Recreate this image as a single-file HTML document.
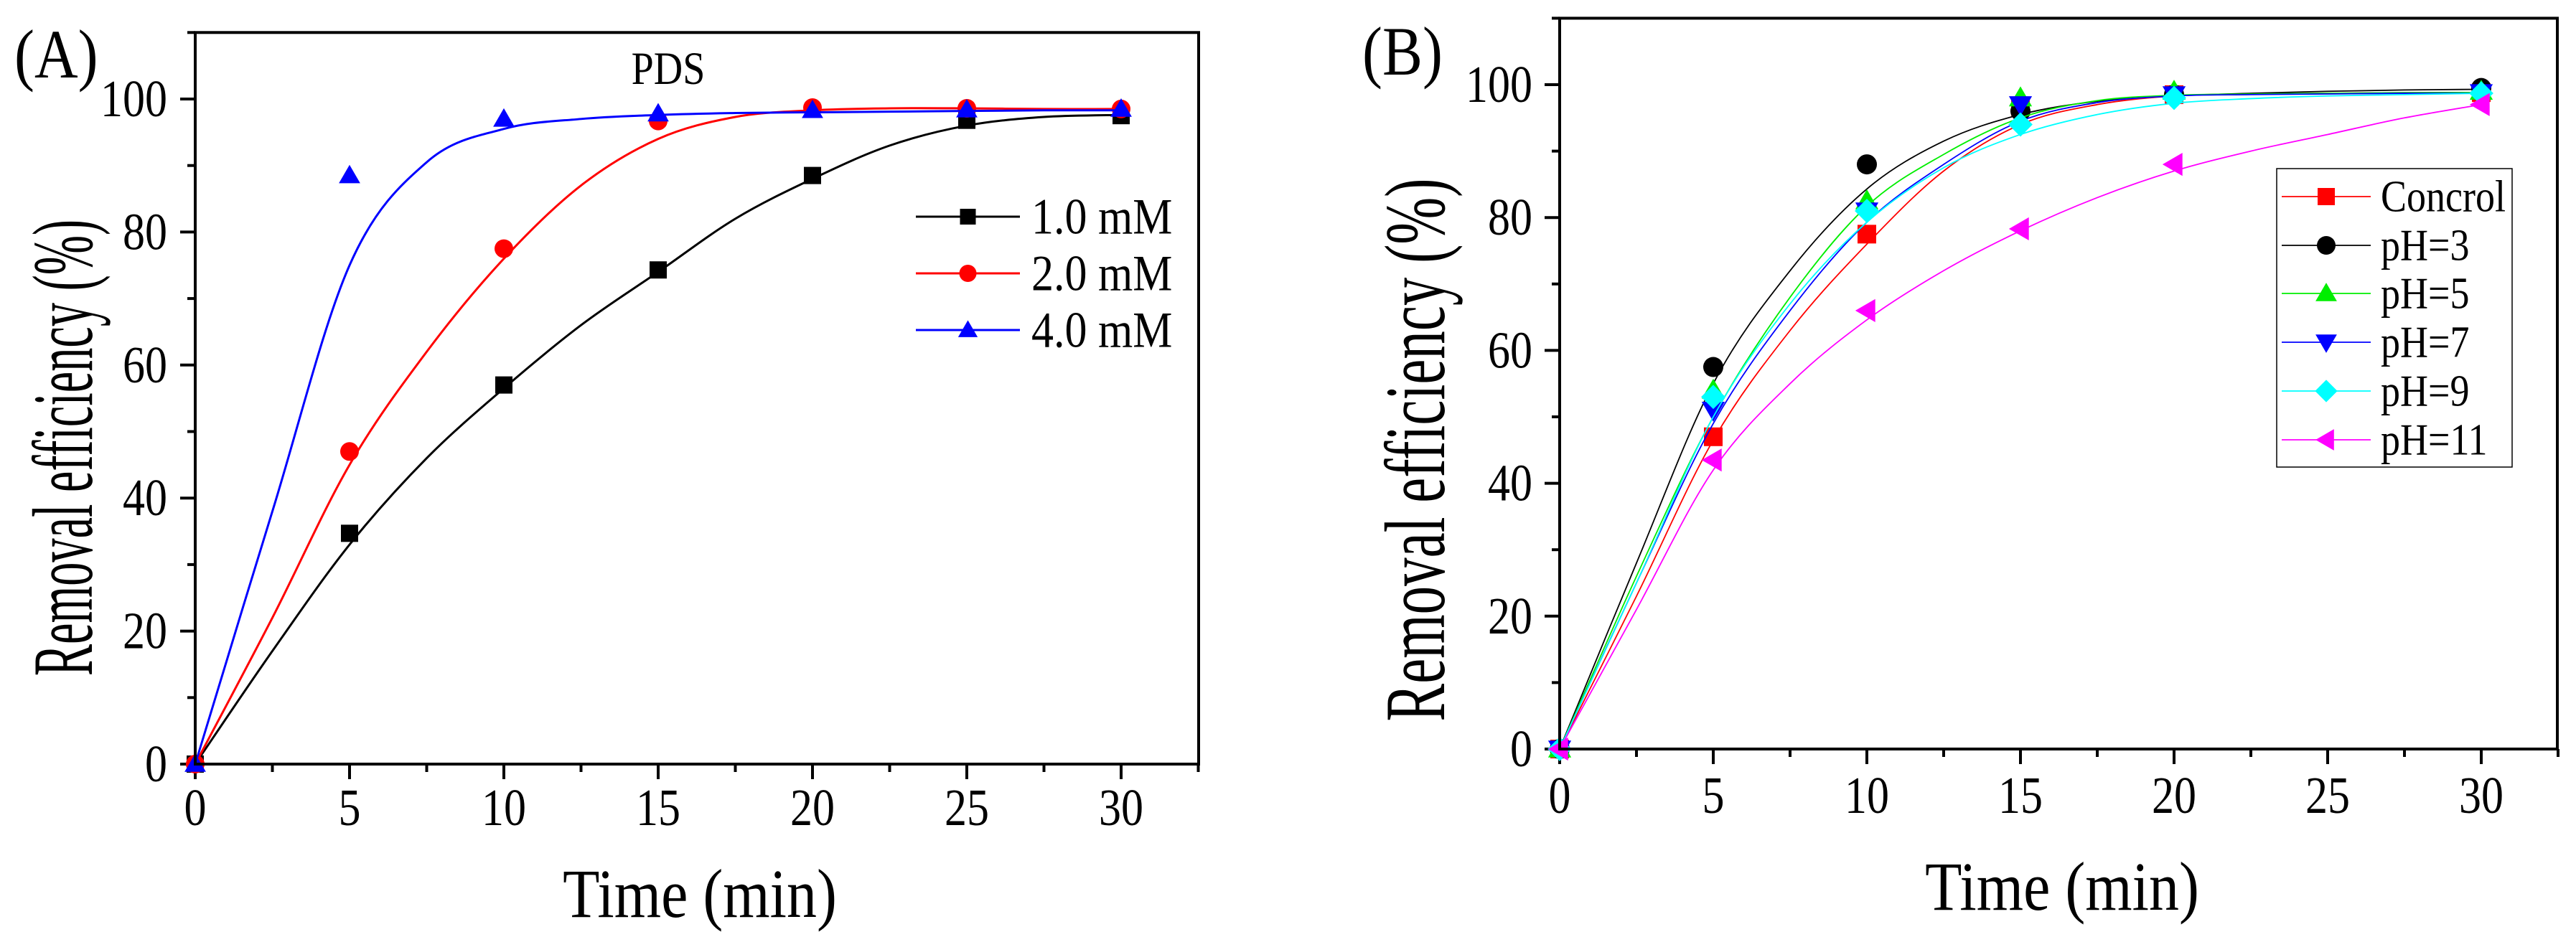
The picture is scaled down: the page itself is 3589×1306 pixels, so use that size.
<!DOCTYPE html>
<html><head><meta charset="utf-8"><style>
html,body{margin:0;padding:0;background:#fff;}
svg{display:block;font-family:"Liberation Serif",serif;}
</style></head><body>
<svg id="fig" width="3589" height="1306" viewBox="0 0 3589 1306" xmlns="http://www.w3.org/2000/svg"></svg>
<script>
// ---------- Panel A data ----------
const timesA = [0,5,10,15,20,25,30];
const a_1mM = [0,34.7,57,74.3,88.5,96.8,97.5];
const a_2mM = [0,47,77.5,96.7,98.7,98.6,98.5];
const a_4mM = [0,88.5,97,97.8,98.3,98.4,98.5];
const fitTimes = [0,2.5,5,7.5,10,12.5,15,17.5,20,22.5,25,27.5,30];
const fitA_1mM = [0,17,33,46,56.5,66,74,82,88,93,96,97.3,97.6];
const fitA_2mM = [0,22,45,62,76,87,94,97.3,98.3,98.6,98.6,98.5,98.5];
const fitA_4mM = [0,38,75,90.5,95.5,97,97.6,97.9,98,98.1,98.2,98.3,98.3];
const labelsA = ["1.0 mM","2.0 mM","4.0 mM"];
// ---------- Panel B data ----------
const timesB = [0,5,10,15,20,30];
const b_control = [0,47,77.5,96.7,98.5,98.8];
const b_pH3 = [0,57.5,88,96,98.5,99.5];
const b_pH5 = [0,54,82.5,98,99,99];
const b_pH7 = [0,51,81,97,98.5,98.8];
const b_pH9 = [0,53,81,94,98,98.7];
const b_pH11 = [0,43.5,66,78.3,88,97];
const fitB_control = [0,23,46.5,63,76,87,94,97,98.3,98.6,98.7,98.8,98.8];
const fitB_pH3 = [0,28,55,72,84.3,91.5,95.5,97.5,98.3,98.7,99,99.2,99.3];
const fitB_pH5 = [0,26,50,68,81.7,89.5,95,97.6,98.4,98.6,98.7,98.8,98.8];
const fitB_pH7 = [0,25,49,66,79.3,88,94.5,97.3,98.3,98.5,98.6,98.7,98.7];
const fitB_pH9 = [0,25,50,67,79.3,87.5,92.5,95.5,97.2,97.9,98.3,98.5,98.7];
const fitB_pH11 = [0,21,42,55,64.6,72,78,83,87,90,92.5,95,97];
const labelsB = ["Concrol","pH=3","pH=5","pH=7","pH=9","pH=11"];
const xTicks = [0,5,10,15,20,25,30];
const yTicks = [0,20,40,60,80,100];

const NS="http://www.w3.org/2000/svg";
const svg=document.getElementById('fig');
function mk(tag,attrs,parent,text){const e=document.createElementNS(NS,tag);for(const k in attrs)e.setAttribute(k,attrs[k]);if(text!==undefined)e.textContent=text;(parent||svg).appendChild(e);return e;}

function marker(g,shape,cx,cy,color,s){
  let e;
  if(shape==='square'){e=mk('rect',{x:cx-s/2,y:cy-s/2,width:s,height:s,fill:color},g);}
  else if(shape==='circle'){e=mk('circle',{cx:cx,cy:cy,r:s/2+1,fill:color},g);}
  else if(shape==='up'){e=mk('polygon',{points:`${cx},${cy-s*0.62} ${cx-s*0.62},${cy+s*0.45} ${cx+s*0.62},${cy+s*0.45}`,fill:color},g);}
  else if(shape==='down'){e=mk('polygon',{points:`${cx},${cy+s*0.62} ${cx-s*0.62},${cy-s*0.45} ${cx+s*0.62},${cy-s*0.45}`,fill:color},g);}
  else if(shape==='diamond'){e=mk('polygon',{points:`${cx},${cy-s*0.65} ${cx+s*0.65},${cy} ${cx},${cy+s*0.65} ${cx-s*0.65},${cy}`,fill:color},g);}
  else if(shape==='left'){e=mk('polygon',{points:`${cx-s*0.62},${cy} ${cx+s*0.45},${cy-s*0.62} ${cx+s*0.45},${cy+s*0.62}`,fill:color},g);}
  
  
  return e;
}
function spline(pts){
  let d=`M${pts[0][0]},${pts[0][1]}`;
  for(let i=0;i<pts.length-1;i++){
    const p0=pts[Math.max(0,i-1)],p1=pts[i],p2=pts[i+1],p3=pts[Math.min(pts.length-1,i+2)];
    const c1=[p1[0]+(p2[0]-p0[0])/6,p1[1]+(p2[1]-p0[1])/6];
    const c2=[p2[0]-(p3[0]-p1[0])/6,p2[1]-(p3[1]-p1[1])/6];
    d+=` C${c1[0]},${c1[1]} ${c2[0]},${c2[1]} ${p2[0]},${p2[1]}`;
  }
  return d;
}

function panel(cfg){
  const g=mk('g',{});
  
  
  const X=v=>cfg.x0+(v/30)*cfg.xw;
  const Y=v=>cfg.y0-(v/100)*cfg.yh;
  const top=Y(110);
  const ax=mk('g',{stroke:'#000','stroke-width':4},g);
  
  
  for(let v=0;v<=cfg.xmax;v+=2.5){
    const major=(v%5===0);
    mk('line',{x1:X(v),y1:cfg.y0,x2:X(v),y2:cfg.y0+(major?21:11)},ax);
  }
  for(let v=0;v<=110;v+=10){
    const major=(v%20===0);
    mk('line',{x1:cfg.x0,y1:Y(v),x2:cfg.x0-(major?21:11),y2:Y(v)},ax);
  }
  xTicks.forEach(v=>{const t=mk('text',{x:0,y:0,'text-anchor':'middle','font-size':62,transform:`translate(${X(v)},${cfg.xlabY}) scale(1,1.18)`},g,String(v));
    });
  yTicks.forEach(v=>{const t=mk('text',{x:0,y:0,'text-anchor':'end','font-size':62,transform:`translate(${cfg.ylabX},${Y(v)+24}) scale(1,1.18)`},g,String(v));
    });
  cfg.series.forEach(s=>{
    const sg=mk('g',{},g);
    
    
    const p=mk('path',{d:spline(fitTimes.map((t,i)=>[X(t),Y(s.fit[i])])),fill:'none',stroke:s.color,'stroke-width':cfg.lw},sg);
    
    
    s.times.forEach((t,i)=>marker(sg,s.shape,X(t),Y(s.vals[i]),s.color,cfg.ms));
  });
  const fr=mk('rect',{x:cfg.x0,y:top,width:cfg.right-cfg.x0,height:cfg.y0-top,fill:'none',stroke:'#000','stroke-width':4},g);
  
  
  const lg=mk('g',{},g);
  
  
  if(cfg.legBox){const b=mk('rect',{x:cfg.legBox[0],y:cfg.legBox[1],width:cfg.legBox[2],height:cfg.legBox[3],fill:'#fff',stroke:'#000','stroke-width':1.5},lg);
    }
  cfg.series.forEach((s,i)=>{
    const y=cfg.legY[i];
    const e=mk('g',{},lg);
    
    
    mk('line',{x1:cfg.legLine[0],y1:y,x2:cfg.legLine[1],y2:y,stroke:s.color,'stroke-width':cfg.lw},e);
    marker(e,s.shape,(cfg.legLine[0]+cfg.legLine[1])/2,y,s.color,cfg.ms-2);
    mk('text',{x:0,y:0,'font-size':cfg.legFs,transform:`translate(${cfg.legText},${y+cfg.legFs*0.38}) scale(1,1.15)`},e,s.label);
  });
  const xt=mk('text',{x:0,y:0,'text-anchor':'middle','font-size':84,transform:`translate(${cfg.xtX},${cfg.xtY}) scale(1,1.15)`},g,'Time (min)');
  
  const yt=mk('text',{x:0,y:0,'text-anchor':'middle','font-size':84,transform:`translate(${cfg.ytX},${cfg.ytY}) rotate(-90) scale(${cfg.ytS},1.42)`},g,'Removal efficiency (%)');
  
  const pl=mk('text',{x:0,y:0,'font-size':84,transform:`translate(${cfg.plX},${cfg.plY}) scale(1,1.15)`},g,cfg.panelLabel);
  
  return g;
}

panel({name:'panel-a',x0:272,xw:1290,right:1670,y0:1065,yh:927,xmax:32.5,xlabY:1150,ylabX:233,lw:3,ms:24,
  series:[
    {label:labelsA[0],times:timesA,vals:a_1mM,fit:fitA_1mM,color:'#000',shape:'square'},
    {label:labelsA[1],times:timesA,vals:a_2mM,fit:fitA_2mM,color:'#ff0000',shape:'circle'},
    {label:labelsA[2],times:timesA,vals:a_4mM,fit:fitA_4mM,color:'#0000ff',shape:'up'}],
  legY:[302,381,460],legLine:[1276,1421],legText:1437,legFs:62,
  xtX:975,xtY:1278,ytX:128,ytY:624,ytS:0.79,plX:20,plY:108,panelLabel:'(A)'});
const pds=mk('text',{x:0,y:0,'text-anchor':'middle','font-size':56,transform:'translate(931,117) scale(1,1.15)'},svg,'PDS');



panel({name:'panel-b',x0:2173,xw:1284,right:3563,y0:1044,yh:926,xmax:32.5,xlabY:1133,ylabX:2135,lw:1.8,ms:26,
  series:[
    {label:labelsB[0],times:timesB,vals:b_control,fit:fitB_control,color:'#ff0000',shape:'square'},
    {label:labelsB[1],times:timesB,vals:b_pH3,fit:fitB_pH3,color:'#000',shape:'circle'},
    {label:labelsB[2],times:timesB,vals:b_pH5,fit:fitB_pH5,color:'#00ee00',shape:'up'},
    {label:labelsB[3],times:timesB,vals:b_pH7,fit:fitB_pH7,color:'#0000ff',shape:'down'},
    {label:labelsB[4],times:timesB,vals:b_pH9,fit:fitB_pH9,color:'#00ffff',shape:'diamond'},
    {label:labelsB[5],times:timesB,vals:b_pH11,fit:fitB_pH11,color:'#ff00ff',shape:'left'}],
  legBox:[3172,235,328,416],legY:[274,342,409,477,545,613],legLine:[3179,3303],legText:3317,legFs:54,
  xtX:2873,xtY:1268,ytX:2012,ytY:627,ytS:0.94,plX:1898,plY:104,panelLabel:'(B)'});
</script>
</body></html>
